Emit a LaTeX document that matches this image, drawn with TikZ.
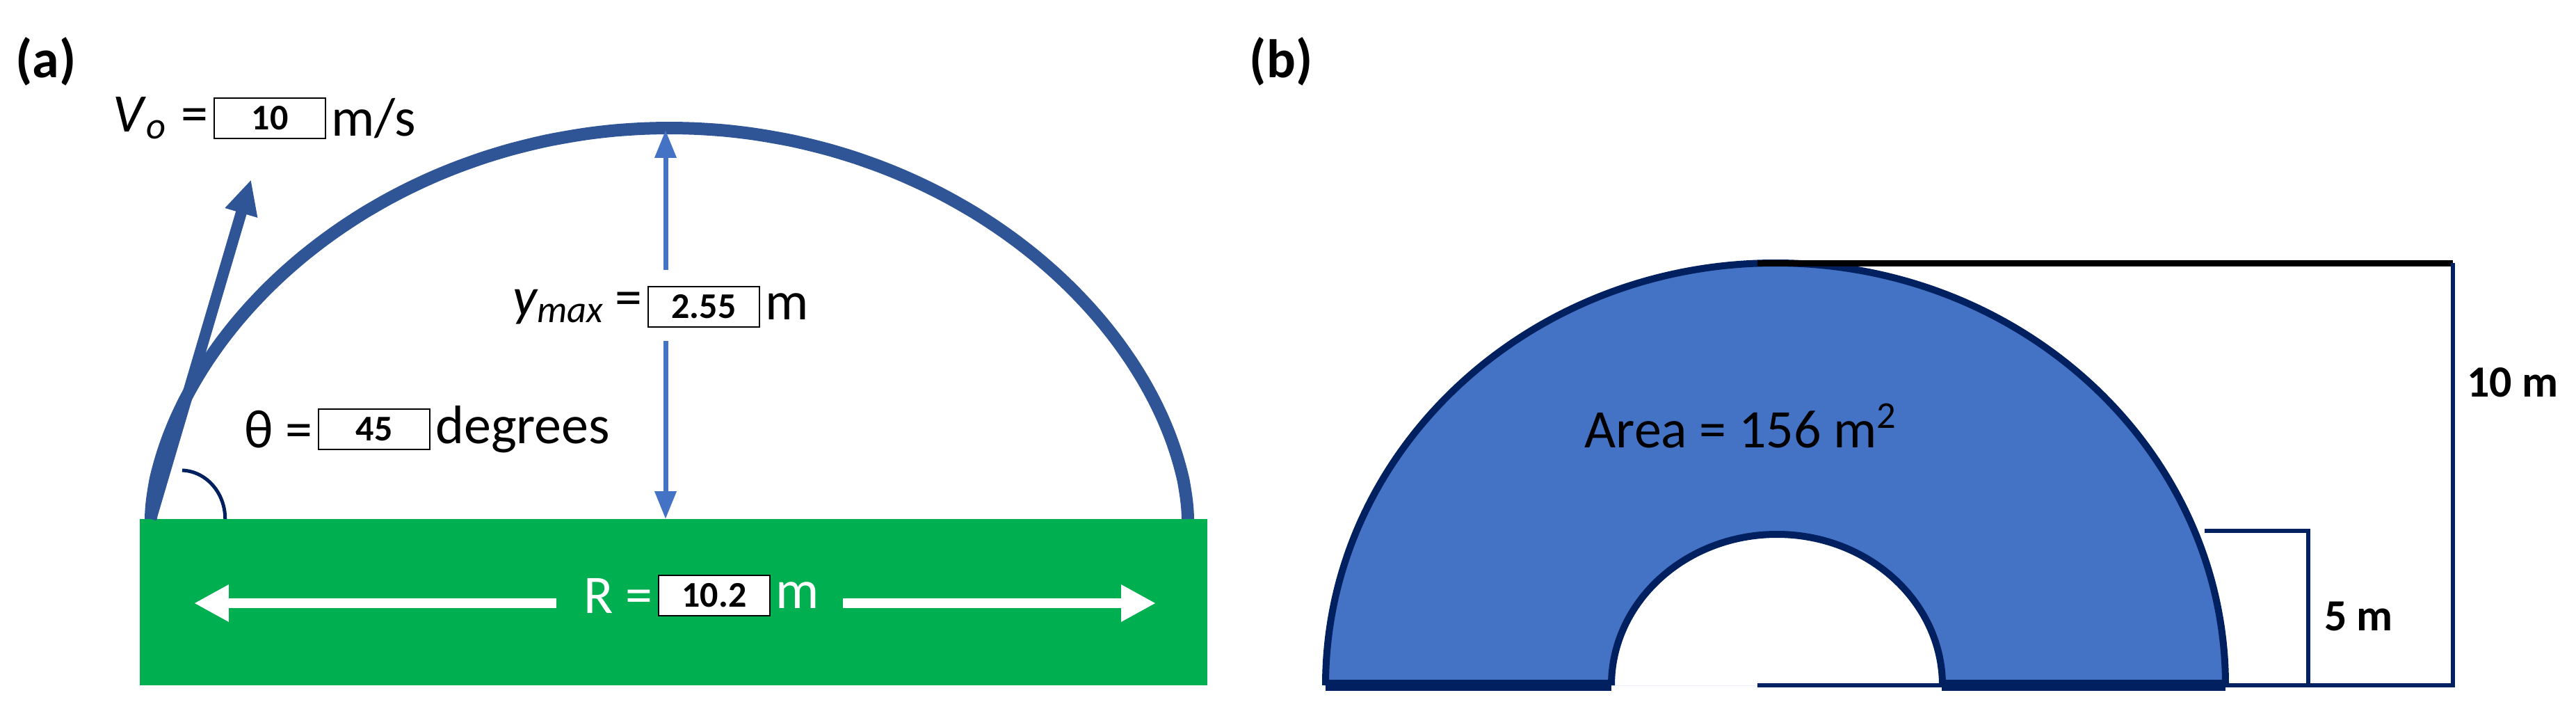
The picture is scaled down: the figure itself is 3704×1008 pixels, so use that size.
\documentclass[tikz,border=0pt]{standalone}
\usepackage{fontspec}
\setmainfont{Carlito}
\usetikzlibrary{arrows.meta}
\definecolor{arcblue}{HTML}{2F5597}
\definecolor{lblue}{HTML}{4472C4}
\definecolor{navy}{HTML}{002060}
\definecolor{grass}{HTML}{00B050}
\tikzset{
  valbox/.style={draw=black,line width=0.25pt,fill=white,minimum width=16pt,minimum height=5.8pt,inner sep=0pt,font=\fontsize{5.2}{6}\selectfont\bfseries},
  lbl/.style={font=\fontsize{7.8}{9}\selectfont,inner sep=0.5pt},
  panel/.style={font=\fontsize{7.8}{9}\selectfont\bfseries},
}
\begin{document}
\begin{tikzpicture}[x=0.1pt,y=-0.1pt]
\useasboundingbox (0,0) rectangle (3704,1008);
% panel labels
\node[panel] (pa) at (66,88) {(a)};
\node[panel] (pb) at (1842,88) {(b)};
% ground
\fill[grass] (201,746) rectangle (1736,985);
% trajectory
\coordinate (st) at (217,746);
\coordinate (en) at (1708,746);
\draw[arcblue,line width=1.8pt] plot[domain=180:0,samples=121,smooth] ({962.5+745.5*cos(\x)},{746-562*pow(abs(sin(\x)),1.15)});
% velocity arrow
\coordinate (vt) at (361,258);
\draw[arcblue,line width=1.6pt,-{Triangle[length=5pt,width=4.5pt]}] (st) -- (vt);
% angle arc
\draw[navy,line width=0.5pt] (262,676) arc[start angle=88,end angle=0,x radius=64,y radius=-70];
% ymax
\node[valbox] (yb) at (1012,441) {2.55};
\node[lbl,anchor=east] (yl) at (yb.west) {$\mathit{y}_{\mathit{max}}$\,=};
\node[lbl,anchor=west] (ym) at (yb.east) {m};
\coordinate (ytop) at (957,187);
\coordinate (ybot) at (957,746);
\draw[lblue,line width=0.7pt,-{Triangle[length=4pt,width=3pt]}] (957,388) -- (ytop);
\draw[lblue,line width=0.7pt,-{Triangle[length=4pt,width=3pt]}] (957,490) -- (ybot);
% V0
\node[valbox] (vb) at (388,170) {10};
\node[lbl,anchor=east] (vl) at (vb.west) {\textit{V}\textsubscript{\textit{o}} =};
\node[lbl,anchor=west] (vm) at (vb.east) {m/s};
% theta
\node[valbox] (tb) at (538,617) {45};
\node[lbl,anchor=east] (tl) at (tb.west) {θ =};
\node[lbl,anchor=west] (tm) at (tb.east) {degrees};
% R
\node[valbox] (rb) at (1027,856) {10.2};
\node[lbl,anchor=east,text=white] (rl) at (rb.west) {R =};
\node[lbl,anchor=west,text=white] (rm) at (rb.east) {m};
\coordinate (rl1) at (279,867);
\coordinate (rr1) at (1662,867);
\draw[white,line width=1.4pt,-{Triangle[length=5pt,width=5pt]}] (800,867) -- (rl1);
\draw[white,line width=1.4pt,-{Triangle[length=5pt,width=5pt]}] (1212,867) -- (rr1);
% panel b
\fill[lblue,even odd rule] (1906,985) arc[start angle=180,end angle=0,x radius=647,y radius=-607] -- cycle
  (2317,985) arc[start angle=180,end angle=0,x radius=238,y radius=-217] -- cycle;
\draw[navy,line width=1pt] (1906,985) arc[start angle=180,end angle=0,x radius=647,y radius=-607];
\draw[navy,line width=1pt] (2317,985) arc[start angle=180,end angle=0,x radius=238,y radius=-217];
\draw[navy,line width=1.6pt] (1906,985) -- (2317,985) (2792,985) -- (3200,985);
\draw[black,line width=0.9pt] (2527,378) -- (3527,378);
\draw[navy,line width=0.6pt] (3527,378) -- (3527,985) -- (2527,985);
\draw[navy,line width=0.6pt] (3170,763) -- (3319,763) -- (3319,985);
\node[lbl,font=\fontsize{6.4}{8}\selectfont\bfseries,anchor=west] (ten) at (3540,550) {10 m};
\node[lbl,font=\fontsize{6.4}{8}\selectfont\bfseries,anchor=west] (five) at (3335,886) {5 m};
\node[lbl] (area) at (2505,612) {Area = 156 m\textsuperscript{2}};
\end{tikzpicture}
\end{document}
